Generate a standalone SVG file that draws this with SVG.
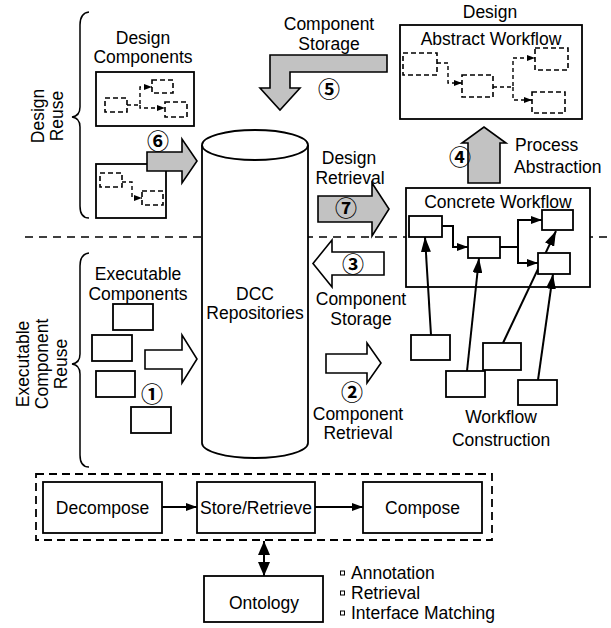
<svg xmlns="http://www.w3.org/2000/svg" width="611" height="628" viewBox="0 0 611 628">
<style>
.t{font-family:"Liberation Sans",Arial,sans-serif;font-size:17.5px;fill:#000;text-anchor:middle}
.ts{font-family:"Liberation Sans",Arial,sans-serif;font-size:17.5px;fill:#000;text-anchor:start}
.num{font-family:"Noto Sans CJK JP","DejaVu Sans",sans-serif;font-size:22px;font-weight:bold;fill:#000;text-anchor:middle}
.box{fill:#fff;stroke:#000;stroke-width:1.8}
.dbox{fill:none;stroke:#000;stroke-width:1.6;stroke-dasharray:5,3}
.dline{fill:none;stroke:#000;stroke-width:1.4;stroke-dasharray:4,3}
.conn{fill:none;stroke:#000;stroke-width:2}
.grey{fill:#c2c2c2;stroke:#000;stroke-width:1.6;stroke-linejoin:miter}
.hollow{fill:#fff;stroke:#000;stroke-width:1.6;stroke-linejoin:miter}
.brace{fill:none;stroke:#000;stroke-width:1.5}
</style>
<defs>
<marker id="ah" markerUnits="userSpaceOnUse" markerWidth="11" markerHeight="8" refX="11" refY="4" orient="auto"><path d="M0,0 L11,4 L0,8 z" fill="#000"/></marker>
<marker id="ahBig" markerUnits="userSpaceOnUse" markerWidth="15" markerHeight="10" refX="15" refY="5" orient="auto"><path d="M0,0 L15,5 L0,10 z" fill="#000"/></marker>
<marker id="ahTiny" markerUnits="userSpaceOnUse" markerWidth="8" markerHeight="6" refX="8" refY="3" orient="auto"><path d="M0,0 L8,3 L0,6 z" fill="#000"/></marker>
<marker id="ahDbl" markerUnits="userSpaceOnUse" markerWidth="14" markerHeight="12" refX="14" refY="6" orient="auto-start-reverse"><path d="M0,0 L14,6 L0,12 z" fill="#000"/></marker>
</defs>

<!-- section separator -->
<line x1="25" y1="237" x2="611" y2="237" stroke="#000" stroke-width="1.6" stroke-dasharray="8,6"/>

<!-- braces and side labels -->
<g id="design-reuse">
<path class="brace" d="M89,12 Q80,13 80,25 V107 Q80,116 72,117 Q80,118 80,127 V206 Q80,218 89,218"/>
<text class="t" transform="translate(44,116) rotate(-90)">Design</text>
<text class="t" transform="translate(63,116) rotate(-90)">Reuse</text>
</g>
<g id="executable-component-reuse">
<path class="brace" d="M89,253 Q80,254 80,266 V354 Q80,363 72,364 Q80,365 80,374 V455 Q80,467 89,467"/>
<text class="t" transform="translate(29,364) rotate(-90)">Executable</text>
<text class="t" transform="translate(48,364) rotate(-90)">Component</text>
<text class="t" transform="translate(67,364) rotate(-90)">Reuse</text>
</g>

<!-- concrete workflow frame -->
<g id="concrete-workflow">
<rect class="box" x="406" y="188" width="184" height="99"/>
<text class="t" x="498" y="207.5">Concrete Workflow</text>
</g>

<!-- thin connectors -->
<g id="connectors">
<path class="conn" d="M442,226 H453 V247 H468" marker-end="url(#ah)"/>
<path class="conn" d="M500,247 H518 V220 H542" marker-end="url(#ah)"/>
<path class="conn" d="M518,247 V263 H538" marker-end="url(#ah)"/>
<line class="conn" x1="431" y1="335" x2="425" y2="237" marker-end="url(#ahBig)"/>
<line class="conn" x1="467" y1="371" x2="479" y2="258" marker-end="url(#ahBig)"/>
<line class="conn" x1="503" y1="343" x2="556" y2="231" marker-end="url(#ahBig)"/>
<line class="conn" x1="538" y1="380" x2="553" y2="274" marker-end="url(#ahBig)"/>
<line class="conn" x1="162" y1="507" x2="197" y2="507" marker-end="url(#ah)"/>
<line class="conn" x1="315" y1="507" x2="363" y2="507" marker-end="url(#ah)"/>
<line class="conn" x1="264" y1="541" x2="264" y2="576" marker-start="url(#ahDbl)" marker-end="url(#ahDbl)"/>
</g>

<!-- concrete workflow steps -->
<g id="concrete-steps">
<rect class="box" x="409" y="216" width="33" height="21"/>
<rect class="box" x="468" y="237" width="32" height="21"/>
<rect class="box" x="542" y="210" width="31" height="20"/>
<rect class="box" x="538" y="253" width="32" height="21"/>
</g>

<!-- design components -->
<g id="design-components">
<text class="t" x="143" y="44">Design</text>
<text class="t" x="143" y="63">Components</text>
<rect class="box" x="96" y="72" width="98" height="54"/>
<rect class="dbox" x="105" y="98" width="22" height="14"/>
<rect class="dbox" x="152" y="80" width="21" height="13"/>
<rect class="dbox" x="165" y="102" width="22" height="15"/>
<path class="dline" d="M127,105 H140 V87 H152" marker-end="url(#ahTiny)"/>
<path class="dline" d="M140,105 V108 H165" marker-end="url(#ahTiny)"/>
</g>
<g id="design-component-2">
<rect class="box" x="96" y="164" width="70" height="54"/>
<rect class="dbox" x="100" y="173" width="22" height="14"/>
<rect class="dbox" x="142" y="191" width="21" height="14"/>
<path class="dline" d="M122,182 H132 V198 H142" marker-end="url(#ahTiny)"/>
</g>

<!-- repository -->
<g id="dcc-repositories">
<path d="M202,145 V443 A53,15 0 0 0 308,443 V145" fill="#fff" stroke="#000" stroke-width="1.8"/>
<ellipse cx="255" cy="145" rx="53" ry="15" fill="#fff" stroke="#000" stroke-width="1.8"/>
<text class="t" x="255" y="299.5">DCC</text>
<text class="t" x="255" y="318.5">Repositories</text>
</g>

<!-- abstract workflow -->
<g id="abstract-workflow">
<text class="t" x="490" y="17.5">Design</text>
<rect class="box" x="400" y="25" width="182" height="94"/>
<text class="t" x="491" y="45">Abstract Workflow</text>
<rect class="dbox" x="403" y="53" width="34" height="22"/>
<rect class="dbox" x="462" y="75" width="31" height="22"/>
<rect class="dbox" x="535" y="48" width="33" height="22"/>
<rect class="dbox" x="532" y="92" width="33" height="21"/>
<path class="dline" d="M437,63 H448 V83 H462" marker-end="url(#ahTiny)"/>
<path class="dline" d="M493,87 H513 V58 H535" marker-end="url(#ahTiny)"/>
<path class="dline" d="M513,87 V100 H532" marker-end="url(#ahTiny)"/>
</g>

<g id="workflow-construction">
<rect class="box" x="411" y="335" width="39" height="25"/>
<rect class="box" x="446" y="371" width="39" height="26"/>
<rect class="box" x="483" y="343" width="38" height="27"/>
<rect class="box" x="518" y="380" width="39" height="25"/>
<text class="t" x="501" y="422.5">Workflow</text>
<text class="t" x="501" y="446">Construction</text>
</g>

<!-- executable components -->
<g id="executable-components">
<text class="t" x="138" y="279.5">Executable</text>
<text class="t" x="138" y="300">Components</text>
<rect class="box" x="113" y="304" width="40" height="26"/>
<rect class="box" x="92" y="335" width="40" height="26"/>
<rect class="box" x="96" y="371" width="39" height="26"/>
<rect class="box" x="131" y="407" width="40" height="26"/>
</g>

<!-- block arrows -->
<g id="flow-arrows">
<polygon class="hollow" points="145,350 182,350 182,335 197,359 182,383 182,369 145,369"/>
<text class="num" x="152" y="402">①</text>
<polygon class="hollow" points="326,354 367,354 367,343 381,363 367,383 367,373 326,373"/>
<text class="num" x="352" y="400">②</text>
<text class="t" x="358" y="419.5">Component</text>
<text class="t" x="358" y="439">Retrieval</text>
<polygon class="hollow" points="384,252 332,252 332,240 313,263.5 332,287 332,275 384,275"/>
<text class="num" x="353" y="272">③</text>
<text class="t" x="361" y="304.5">Component</text>
<text class="t" x="361" y="324.5">Storage</text>
<polygon class="grey" points="468,183 468,143 462,143 484,127 506,143 500,143 500,183"/>
<text class="num" x="460" y="165">④</text>
<text class="ts" x="515" y="151">Process</text>
<text class="ts" x="514" y="172.5">Abstraction</text>
<polygon class="grey" points="387,55 270,55 270,88 260,88 280,110 300,88 290,88 290,72 387,72"/>
<text class="num" x="329" y="97">⑤</text>
<text class="t" x="329" y="30">Component</text>
<text class="t" x="329" y="49.5">Storage</text>
<polygon class="grey" points="147,152 182,152 182,139 197,161 182,183 182,171 147,171"/>
<text class="num" x="158" y="149">⑥</text>
<polygon class="grey" points="318,196 372,196 372,183 389,209 372,236 372,222 318,222"/>
<text class="num" x="346" y="216">⑦</text>
<text class="t" x="349" y="164">Design</text>
<text class="t" x="350" y="184">Retrieval</text>
</g>

<!-- bottom process -->
<g id="process-frame">
<rect x="36" y="474" width="456" height="66" fill="none" stroke="#000" stroke-width="1.8" stroke-dasharray="8,5"/>
</g>
<g id="decompose">
<rect class="box" x="43" y="482" width="119" height="51"/>
<text class="t" x="102.5" y="514">Decompose</text>
</g>
<g id="store-retrieve">
<rect class="box" x="197" y="482" width="118" height="51"/>
<text class="t" x="256" y="514">Store/Retrieve</text>
</g>
<g id="compose">
<rect class="box" x="363" y="482" width="119" height="51"/>
<text class="t" x="422.5" y="514">Compose</text>
</g>
<g id="ontology">
<rect class="box" x="204" y="576" width="119" height="46"/>
<text class="t" x="264" y="609">Ontology</text>
</g>
<g id="ontology-notes">
<rect x="340.5" y="571" width="4" height="4" fill="none" stroke="#000" stroke-width="1"/>
<text class="ts" x="351" y="579">Annotation</text>
<rect x="340.5" y="591" width="4" height="4" fill="none" stroke="#000" stroke-width="1"/>
<text class="ts" x="351" y="599">Retrieval</text>
<rect x="340.5" y="611" width="4" height="4" fill="none" stroke="#000" stroke-width="1"/>
<text class="ts" x="351" y="619">Interface Matching</text>
</g>
</svg>
